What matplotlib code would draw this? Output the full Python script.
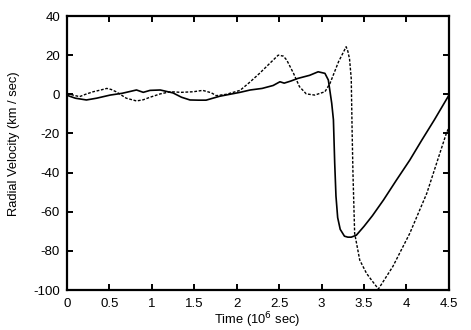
import matplotlib
matplotlib.use("Agg")
import matplotlib.pyplot as plt

plt.rcParams['font.family'] = ['Liberation Sans', 'DejaVu Sans']

# Solid curve (time in 10^6 sec, radial velocity km/sec)
solid_t = [0.0, 0.1, 0.23, 0.35, 0.51, 0.65, 0.82, 0.9, 0.98, 1.1, 1.25, 1.35, 1.45,
           1.55, 1.64, 1.8, 1.92, 2.04, 2.16, 2.3, 2.43, 2.51, 2.56, 2.64, 2.72, 2.86,
           2.96, 3.04, 3.08, 3.12, 3.14, 3.155, 3.17, 3.19, 3.22, 3.27, 3.31, 3.35,
           3.41, 3.5, 3.6, 3.73, 3.88, 4.04, 4.18, 4.33, 4.5]
solid_v = [-0.5, -2.0, -2.9, -2.0, -0.4, 0.5, 2.2, 1.0, 2.0, 2.2, 0.7, -1.5, -2.9,
           -3.0, -3.0, -1.0, 0.0, 1.0, 2.2, 3.0, 4.5, 6.4, 5.7, 6.8, 8.1, 9.7,
           11.5, 10.7, 7.3, -4.6, -13.0, -35.0, -52.0, -63.0, -69.0, -72.5, -73.0, -73.0,
           -72.0, -67.5, -62.0, -54.0, -44.0, -33.6, -23.5, -13.0, -0.5]

# Dashed curve
dash_t = [0.0, 0.08, 0.15, 0.22, 0.31, 0.4, 0.47, 0.52, 0.58, 0.7, 0.82, 0.9, 0.98,
          1.1, 1.22, 1.35, 1.49, 1.6, 1.7, 1.76, 1.88, 2.04, 2.15, 2.27, 2.39, 2.49,
          2.55, 2.59, 2.67, 2.74, 2.82, 2.92, 3.04, 3.10, 3.20, 3.29, 3.31, 3.33,
          3.35, 3.36, 3.37, 3.39, 3.45, 3.53, 3.59, 3.67, 3.84, 4.04, 4.24, 4.47, 4.5]
dash_v = [0.5, -0.5, -1.2, 0.0, 1.3, 2.2, 3.0, 2.5, 1.3, -2.0, -3.4, -2.8, -1.5,
          0.2, 1.3, 1.0, 1.3, 2.0, 0.8, -0.7, 0.0, 2.0, 6.0, 10.7, 15.8, 20.0,
          19.5, 17.5, 10.7, 3.9, 0.2, -0.4, 1.3, 5.6, 16.6, 24.3, 22.0, 18.0,
          8.0, -18.0, -40.0, -71.0, -84.7, -91.5, -95.0, -99.5, -88.0, -71.0, -50.6, -20.0, -17.0]

xticks = [0, 0.5, 1, 1.5, 2, 2.5, 3, 3.5, 4, 4.5]
xticklabels = ['0', '0.5', '1', '1.5', '2', '2.5', '3', '3.5', '4', '4.5']
yticks = [-100, -80, -60, -40, -20, 0, 20, 40]
yticklabels = ['-100', '-80', '-60', '-40', '-20', '0', '20', '40']

fig = plt.figure(figsize=(4.71, 3.30), dpi=100)
ax = fig.add_axes([0.142, 0.1212, 0.811, 0.8303])

ax.plot(solid_t, solid_v, color='black', lw=1.2, solid_joinstyle='round')
ax.plot(dash_t, dash_v, color='black', lw=1.0, linestyle=(0, (2.0, 1.2)))

ax.set_xlim(0, 4.5)
ax.set_ylim(-100, 40)
ax.set_xticks(xticks)
ax.set_xticklabels(xticklabels)
ax.set_yticks(yticks)
ax.set_yticklabels(yticklabels)

for s in ax.spines.values():
    s.set_linewidth(1.6)
ax.tick_params(direction='in', top=True, right=True, length=4, width=1.4,
               labelsize=9.5)
ax.tick_params(axis='x', pad=6)
ax.tick_params(axis='y', pad=5)

ax.set_xlabel('Time (10$^6$ sec)', fontsize=9.3)
ax.set_ylabel('Radial Velocity (km / sec)', fontsize=9.3)
ax.xaxis.set_label_coords(0.499, -0.073)
ax.yaxis.set_label_coords(-0.123, 0.533)

fig.savefig('out.png', dpi=100)
